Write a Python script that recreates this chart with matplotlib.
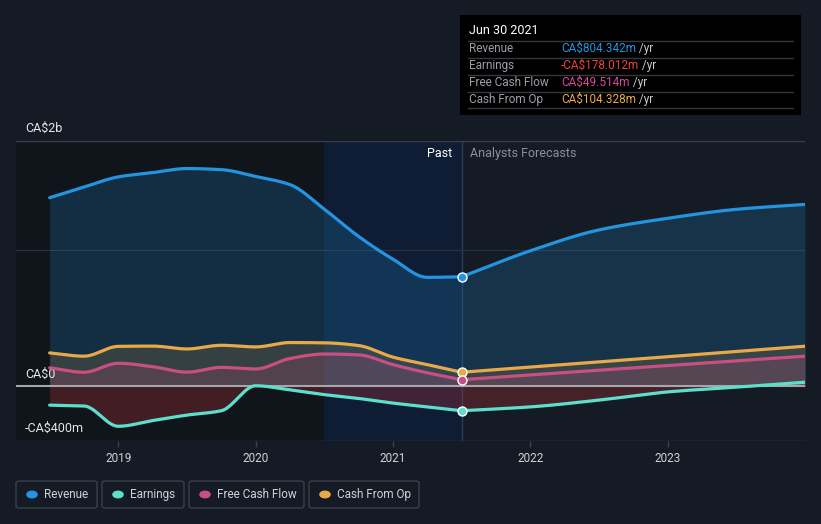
import numpy as np
import matplotlib.pyplot as plt
from matplotlib.patches import FancyBboxPatch, Rectangle
from matplotlib.lines import Line2D
from matplotlib.text import Annotation

plt.rcParams['font.family'] = ['Roboto', 'DejaVu Sans']

# reported (quarterly, trailing twelve months) and analyst forecasts, in CA$ millions
past_t = [2018.5, 2018.75, 2019.0, 2019.25, 2019.5, 2019.75, 2020.0, 2020.25,
          2020.5, 2020.75, 2021.0, 2021.25, 2021.5]
fc_t = [2021.5, 2022.0, 2022.5, 2023.0, 2023.5, 2024.0]

revenue_past = [1384, 1462, 1537, 1568, 1598, 1590, 1540, 1480, 1300, 1100, 933, 800, 804.342]
revenue_fc = [804.342, 995, 1148, 1233, 1299, 1335]
earnings_past = [-137, -143, -292, -250, -210, -178, 5, -25, -60, -88, -122, -150, -178.012]
earnings_fc = [-178.012, -150, -100, -40, -5, 31]
fcf_past = [137, 104, 170, 145, 105, 140, 128, 205, 238, 232, 160, 100, 49.514]
fcf_fc = [49.514, 85, 119, 153, 188, 222]
cfo_past = [246, 222, 294, 296, 275, 302, 290, 322, 320, 300, 215, 160, 104.328]
cfo_fc = [104.328, 142, 180, 218, 257, 295]

years = [2019, 2020, 2021, 2022, 2023]
tip_date = "Jun 30 2021"

BG = '#151b24'
C_REV = '#2394df'
C_EARN = '#5ce0cc'
C_FCF = '#c84f83'
C_CFO = '#e8a948'


def smooth(t, y, n=60):
    # monotone cubic curve through the points (like d3 curveMonotoneX)
    t = np.asarray(t, float)
    y = np.asarray(y, float)
    h = np.diff(t)
    d = np.diff(y) / h
    m = np.zeros_like(y)
    m[0], m[-1] = d[0], d[-1]
    for i in range(1, len(y) - 1):
        if d[i - 1] * d[i] <= 0:
            m[i] = 0
        else:
            m[i] = 3 * (h[i - 1] + h[i]) / ((2 * h[i] + h[i - 1]) / d[i - 1] + (h[i] + 2 * h[i - 1]) / d[i])
    xs, ys = [], []
    for i in range(len(h)):
        s = np.linspace(0, 1, n, endpoint=(i == len(h) - 1))
        h00 = 2 * s**3 - 3 * s**2 + 1
        h10 = s**3 - 2 * s**2 + s
        h01 = -2 * s**3 + 3 * s**2
        h11 = s**3 - s**2
        xs.append(t[i] + s * h[i])
        ys.append(h00 * y[i] + h10 * h[i] * m[i] + h01 * y[i + 1] + h11 * h[i] * m[i + 1])
    return np.concatenate(xs), np.concatenate(ys)


fig = plt.figure(figsize=(8.21, 5.24), dpi=100, facecolor=BG)
ax = fig.add_axes([16 / 821, 1 - 441 / 524, 789 / 821, 300 / 524])
ax.set_facecolor(BG)
x0, x1 = 2018.255, 2024.0
y0, y1 = -400, 1800
ax.set_xlim(x0, x1)
ax.set_ylim(y0, y1)

# background bands: older past darker, last year highlighted
ax.axvspan(x0, 2020.5, color='#0d1015', alpha=0.55, lw=0, zorder=0)
ax.axvspan(2020.5, 2021.5, color='#0b1f3c', alpha=0.65, lw=0, zorder=0)
ax.axvline(2021.5, color='#2b3b52', lw=1, zorder=1)

series = [
    (revenue_past, revenue_fc, C_REV, C_REV, 0.2),
    (cfo_past, cfo_fc, C_CFO, C_CFO, 0.16),
    (fcf_past, fcf_fc, C_FCF, C_FCF, 0.2),
    (earnings_past, earnings_fc, C_EARN, '#d8383f', 0.25),
]

for z, (vp, vf, lc, fc, a) in enumerate(series):
    for t, v in ((past_t, vp), (fc_t, vf)):
        xs, ys = smooth(t, v)
        ax.fill_between(xs, ys, 0, color=fc, alpha=a, lw=0, zorder=2 + z * 0.1)
        ax.plot(xs, ys, color=lc, lw=2.3, solid_capstyle='round', zorder=6 - z * 0.1)
    ax.scatter([2021.5], [vp[-1]], s=42, color=lc, edgecolor='white', linewidth=1, zorder=8)

# grid lines
ax.axhline(y1, color='#3a404a', lw=1, zorder=1)
ax.axhline(1000, color='#2a3240', lw=0.8, zorder=1)
ax.axhline(0, color='#a4a6aa', lw=1.5, zorder=5)
ax.axhline(y0, color='#3a404a', lw=1, zorder=1)

for s in ax.spines.values():
    s.set_visible(False)
ax.set_yticks([])
ax.set_xticks(years)
ax.set_xticklabels([str(y) for y in years])
ax.tick_params(axis='x', colors='#3a404a', labelcolor='#d0d2d6', labelsize=8.5,
               length=4, width=1, pad=4)

for val, lab in ((y1, 'CA$2b'), (0, 'CA$0'), (y0, '-CA$400m')):
    ax.annotate(lab, xy=(0, val), xycoords=('axes fraction', 'data'), xytext=(9, 6),
                textcoords='offset pixels', ha='left', va='bottom', fontsize=9, color='#e4e6ea')

ax.annotate('Past', xy=(2021.5, y1), xytext=(-9, -12), textcoords='offset pixels',
            ha='right', va='center', fontsize=9, color='#ffffff')
ax.annotate('Analysts Forecasts', xy=(2021.5, y1), xytext=(8, -12), textcoords='offset pixels',
            ha='left', va='center', fontsize=9, color='#8b9098')


def fx(px):
    return px / 821


def fy(py):
    return 1 - py / 524


# tooltip
fig.patches.append(Rectangle((fx(460), fy(115)), fx(341), 100 / 524, transform=fig.transFigure,
                             facecolor='#000000', edgecolor='none', zorder=10))
fig.text(fx(469), fy(31), tip_date, fontsize=9, color='#ffffff', va='center', zorder=11)
for py in (40.5, 57.5, 74.5, 91.5, 108.5):
    fig.lines.append(Line2D([fx(468), fx(793)], [fy(py), fy(py)], transform=fig.transFigure,
                            color='#34373c', lw=1, zorder=11))
rows = [
    ('Revenue', 'CA$804.342m', C_REV),
    ('Earnings', '-CA$178.012m', '#f0403c'),
    ('Free Cash Flow', 'CA$49.514m', '#d8489a'),
    ('Cash From Op', 'CA$104.328m', C_CFO),
]
for i, (lab, val, col) in enumerate(rows):
    py = 48.5 + 17 * i
    fig.text(fx(469), fy(py), lab, fontsize=8.5, color='#9a9ea6', va='center', zorder=11)
    t = fig.text(fx(561), fy(py), val, fontsize=8.5, color=col, va='center', zorder=11)
    yr = Annotation(' /yr', xy=(1, 0.5), xycoords=t, va='center', ha='left', fontsize=8.5,
                    color='#c8ccd2', annotation_clip=False)
    yr.set_zorder(12)
    fig.add_artist(yr)

# legend
legend = [('Revenue', C_REV, 16, 97), ('Earnings', C_EARN, 102, 184),
          ('Free Cash Flow', C_FCF, 189, 304), ('Cash From Op', C_CFO, 309, 419)]
for lab, col, l, r in legend:
    fig.patches.append(FancyBboxPatch((fx(l), fy(508)), fx(r - l), 27 / 524,
                                      boxstyle='round,pad=0,rounding_size=0.004',
                                      transform=fig.transFigure, facecolor='none',
                                      edgecolor='#3a3f4a', lw=1))
    fig.patches.append(plt.Circle((fx(l + 16), fy(494.5)), 0.0062, transform=fig.transFigure,
                                  color=col))
    fig.text(fx(l + 28), fy(494.5), lab, fontsize=8.5, color='#d0d2d6', va='center')

fig.savefig('out.png', dpi=100, facecolor=BG)
